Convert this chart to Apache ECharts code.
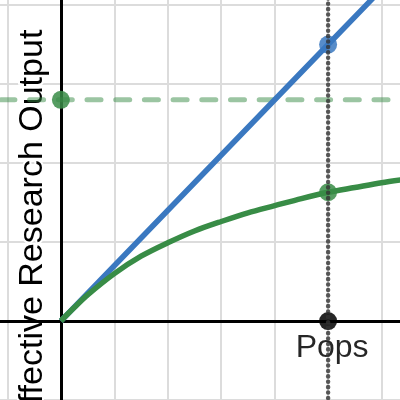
<!DOCTYPE html>
<html>
<head>
<meta charset="utf-8">
<script src="https://cdn.jsdelivr.net/npm/echarts@6/dist/echarts.min.js"></script>
<style>
  html, body { margin: 0; padding: 0; background: #fff; }
  #chart { width: 400px; height: 400px; }
</style>
</head>
<body>
<div id="chart"></div>
<script>
// values (grid units)
const greenX = [0, 0.25, 0.5, 1, 1.5, 2, 2.5, 3, 3.5, 4, 4.5, 5, 5.5, 6, 6.5];
const greenY = [0, 0.17, 0.33, 0.6, 0.82, 0.99, 1.14, 1.26, 1.37, 1.46, 1.55, 1.63, 1.69, 1.75, 1.8];
const blueX = [0, 5, 6.5];
const blueY = [0, 3.5, 4.55];
const ceilingY = 2.8; // dashed green level
const popsX = 5;
const xRange = [-2, 7];
const yRange = [-2, 4.36];

const pointData = [
  { value: [popsX, 3.5], color: "#3a78c0" },
  { value: [popsX, 1.63], color: "#388c46" },
  { value: [0, ceilingY], color: "#388c46" },
  { value: [popsX, 0], color: "#000000", label: "Pops" },
];

const chart = echarts.init(document.getElementById("chart"));

const fontFam = "Arial, 'Liberation Sans', sans-serif";

const option = {
  animation: false,
  grid: {
    left: -46, top: -23.4, width: 481, height: 502.4,
    containLabel: false,
    outerBoundsMode: "none",
  },
  xAxis: {
    type: "value",
    min: xRange[0],
    max: xRange[1],
    interval: 1,
    axisLine: { onZero: true, lineStyle: { color: "#000", width: 3 } },
    axisTick: { show: false },
    axisLabel: { show: false },
    splitLine: { show: true, lineStyle: { color: "#dcdcdc", width: 2 } },
  },
  yAxis: {
    type: "value",
    min: yRange[0],
    max: yRange[1],
    interval: 1,
    name: "Effective Research Output",
    nameLocation: "middle",
    nameGap: -96,
    nameTextStyle: {
      fontSize: 34,
      fontFamily: fontFam,
      color: "#000",
      textBorderColor: "#fff",
      textBorderWidth: 4,
    },
    axisLine: { onZero: true, lineStyle: { color: "#000", width: 3 } },
    axisTick: { show: false },
    axisLabel: { show: false },
    splitLine: { show: true, lineStyle: { color: "#dcdcdc", width: 2 } },
  },
  series: [
    {
      type: "line",
      data: [[xRange[0], ceilingY], [xRange[1], ceilingY]],
      symbol: "none",
      lineStyle: { color: "#388c46", opacity: 0.5, width: 5, type: [14, 14.7], cap: "round", dashOffset: 10.5 },
      z: 2,
    },
    {
      type: "line",
      data: blueX.map((x, i) => [x, blueY[i]]),
      symbol: "none",
      lineStyle: { color: "#3a78c0", width: 5.5 },
      z: 3,
    },
    {
      type: "line",
      data: greenX.map((x, i) => [x, greenY[i]]),
      symbol: "none",
      smooth: 0.3,
      lineStyle: { color: "#388c46", width: 5.5 },
      z: 4,
    },
    {
      type: "scatter",
      symbolSize: 18,
      data: pointData.map((p) => ({
        value: p.value,
        itemStyle: { color: p.color, opacity: 0.85 },
        label: p.label
          ? {
              show: true,
              formatter: p.label,
              position: "bottom",
              distance: 2,
              offset: [4, 0],
              fontSize: 32,
              fontFamily: fontFam,
              color: "#000",
            }
          : { show: false },
      })),
      z: 5,
    },
    {
      type: "line",
      data: [[popsX, yRange[0]], [popsX, yRange[1]]],
      symbol: "none",
      lineStyle: { color: "#333", opacity: 0.8, width: 4.5, type: [0.1, 5.3], cap: "round" },
      z: 6,
    },
  ],
};

chart.setOption(option);
</script>
</body>
</html>
